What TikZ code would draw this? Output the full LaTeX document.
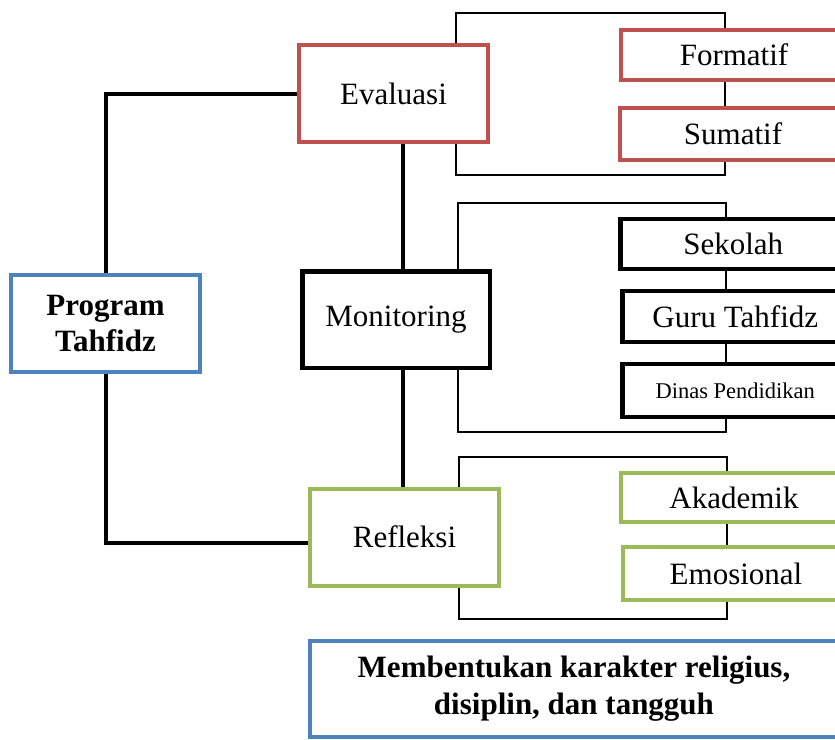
\documentclass[tikz,border=0pt]{standalone}
\usepackage{fontspec}
\setmainfont{Liberation Serif}
\usetikzlibrary{backgrounds}

\definecolor{evalred}{HTML}{C0504D}
\definecolor{tahfidzblue}{HTML}{4F81BD}
\definecolor{refleksigreen}{HTML}{9BBB59}
\newcommand{\bigfont}{\fontsize{31}{36}\selectfont}
\newcommand{\smallfont}{\fontsize{22.5}{27}\selectfont}

\tikzset{
  mainbox/.style={draw, fill=white, line width=4pt, minimum width=189pt, minimum height=97pt, inner sep=4pt, align=center, font=\bigfont},
  subbox/.style={draw, fill=white, line width=4pt, anchor=west, minimum width=226pt, inner sep=4pt, font=\bigfont},
  link/.style={line width=4pt},
  bracket/.style={line width=2.5pt}
}

\begin{document}
\begin{tikzpicture}[x=1pt,y=-1pt]
      \useasboundingbox (0,0) rectangle (835,739);

        \node[mainbox, draw=tahfidzblue, font=\bigfont\bfseries] (program) at (105.5,323.5) {Program\\Tahfidz};
        \node[mainbox, draw=evalred] (evaluasi) at (393.5,93.5) {Evaluasi};
        \node[mainbox, line width=4.5pt, minimum width=187.5pt, minimum height=96.5pt] (monitoring) at (396,319.5) {Monitoring};
        \node[mainbox, draw=refleksigreen] (refleksi) at (404.5,537) {Refleksi};

        \node[subbox, draw=evalred, minimum height=50pt] (formatif) at (619,55) {Formatif};
        \node[subbox, draw=evalred, minimum height=52pt] (sumatif) at (618,134) {Sumatif};

        \node[subbox, line width=4.5pt, minimum height=50pt] (sekolah) at (618,244) {Sekolah};
        \node[subbox, line width=4.5pt, minimum height=51pt] (guru) at (620,316.5) {Guru Tahfidz};
        \node[subbox, line width=4.5pt, minimum height=53pt, font=\smallfont] (dinas) at (620,390.5) {Dinas Pendidikan};

        \node[subbox, draw=refleksigreen, minimum height=49pt] (akademik) at (619,497.5) {Akademik};
        \node[subbox, draw=refleksigreen, minimum height=53pt] (emosional) at (621,573.5) {Emosional};

        \node[mainbox, draw=tahfidzblue, minimum width=528pt, minimum height=96pt, font=\fontsize{31}{37}\selectfont\bfseries] (karakter) at (574,689) {Membentukan karakter religius,\\disiplin, dan tangguh};

        \coordinate (spine) at (403,0);
        \coordinate (evaltop) at (456,13);
        \coordinate (evalbot) at (725,175);
        \coordinate (montop) at (458,203);
        \coordinate (monbot) at (726,432);
        \coordinate (reftop) at (459,457);
        \coordinate (refbot) at (727,619);

        \begin{scope}[on background layer]
        \draw[link] (program.north) |- (evaluasi.west);
        \draw[link] (program.south) |- ([yshift=-6pt]refleksi.west);
        \draw[link] (evaluasi.south -| spine) -- (monitoring.north -| spine);
        \draw[link] (monitoring.south -| spine) -- (refleksi.north -| spine);

        \draw[bracket] (evaltop) rectangle (evalbot);
        \draw[bracket] (montop) rectangle (monbot);
        \draw[bracket] (reftop) rectangle (refbot);
        \end{scope}
      \end{tikzpicture}
\end{document}
